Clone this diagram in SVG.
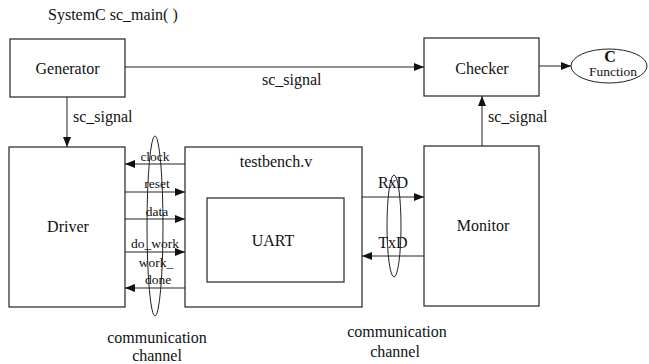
<svg xmlns="http://www.w3.org/2000/svg" width="649" height="364" viewBox="0 0 649 364">
<style>
.lb{font-family:'Liberation Serif',serif;font-size:16px;fill:#111;}
.sm{font-family:'Liberation Serif',serif;font-size:13.5px;fill:#111;}
.box{fill:#fff;stroke:#222;stroke-width:1.2;}
.ln{stroke:#222;stroke-width:1;fill:none;}
.ring{fill:none;stroke:#222;stroke-width:1;}
</style>
<defs>
<marker id="ah" markerUnits="userSpaceOnUse" markerWidth="10" markerHeight="8" refX="10" refY="4" orient="auto">
<path d="M0,0 L10,4 L0,8 Z" fill="#111"/>
</marker>
</defs>
<rect width="649" height="364" fill="#fff"/>
<text class="lb" x="48" y="20">SystemC  sc_main( )</text>
<g id="generator"><rect class="box" x="10" y="39" width="115" height="58"/><text class="lb" font-family="Liberation Serif" x="67.5" y="74" text-anchor="middle">Generator</text></g>
<g id="checker"><rect class="box" x="424" y="38" width="115" height="58"/><text class="lb" font-family="Liberation Serif" x="482" y="74" text-anchor="middle">Checker</text></g>
<g id="cfunction"><ellipse class="ring" cx="609" cy="66" rx="38" ry="17"/><text class="lb" x="610" y="62" font-size="15" font-weight="bold" text-anchor="middle">C</text><text class="sm" x="613" y="76" text-anchor="middle">Function</text></g>
<g id="driver"><rect class="box" x="9" y="147" width="116" height="160"/><text class="lb" x="68" y="232" text-anchor="middle">Driver</text></g>
<g id="testbench"><rect class="box" x="185" y="147" width="177" height="160"/><text class="lb" x="276" y="167" text-anchor="middle">testbench.v</text></g>
<g id="uart"><rect class="box" x="207" y="198" width="137" height="84"/><text class="lb" x="273" y="246" text-anchor="middle">UART</text></g>
<g id="monitor"><rect class="box" x="424" y="146" width="115" height="160"/><text class="lb" x="483" y="231" text-anchor="middle">Monitor</text></g>
<g id="connectors">
<line class="ln" x1="125" y1="67" x2="424" y2="67" marker-end="url(#ah)"/>
<line class="ln" x1="539" y1="66" x2="571" y2="66" marker-end="url(#ah)"/>
<line class="ln" x1="67" y1="97" x2="67" y2="147" marker-end="url(#ah)"/>
<line class="ln" x1="482" y1="146" x2="482" y2="96" marker-end="url(#ah)"/>
<line class="ln" x1="185" y1="164" x2="125" y2="164" marker-end="url(#ah)"/>
<line class="ln" x1="125" y1="192" x2="185" y2="192" marker-end="url(#ah)"/>
<line class="ln" x1="125" y1="219" x2="185" y2="219" marker-end="url(#ah)"/>
<line class="ln" x1="125" y1="252" x2="185" y2="252" marker-end="url(#ah)"/>
<line class="ln" x1="185" y1="288" x2="125" y2="288" marker-end="url(#ah)"/>
<line class="ln" x1="362" y1="197" x2="424" y2="197" marker-end="url(#ah)"/>
<line class="ln" x1="424" y1="256" x2="362" y2="256" marker-end="url(#ah)"/>
<ellipse class="ring" cx="155" cy="226" rx="8" ry="90"/>
<ellipse class="ring" cx="394" cy="226" rx="7" ry="51"/>
<text class="lb" x="262" y="85">sc_signal</text>
<text class="lb" x="73" y="122">sc_signal</text>
<text class="lb" x="488" y="122">sc_signal</text>
<text class="sm" x="155" y="161" text-anchor="middle">clock</text>
<text class="sm" x="157" y="188" text-anchor="middle">reset</text>
<text class="sm" x="157" y="216" text-anchor="middle">data</text>
<text class="sm" x="155" y="248" text-anchor="middle">do_work</text>
<text class="sm" x="156" y="267" text-anchor="middle">work_</text>
<text class="sm" x="158" y="284" text-anchor="middle">done</text>
<text class="lb" x="393" y="188" text-anchor="middle">RxD</text>
<text class="lb" x="393" y="248" text-anchor="middle">TxD</text>
<text class="lb" x="157" y="343" text-anchor="middle">communication</text>
<text class="lb" x="157" y="361" text-anchor="middle">channel</text>
<text class="lb" x="397" y="337" text-anchor="middle">communication</text>
<text class="lb" x="395" y="357" text-anchor="middle">channel</text>
</g>
</svg>
